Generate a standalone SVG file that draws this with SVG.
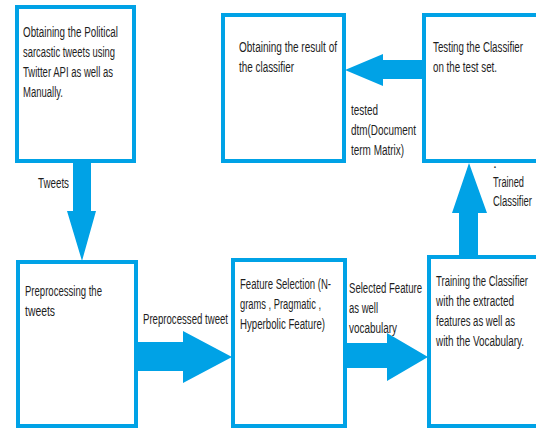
<svg xmlns="http://www.w3.org/2000/svg" width="536" height="429" viewBox="0 0 536 429">
<style>
.box{fill:#fff;stroke:#00a2e6;stroke-width:4}
.arr{fill:#00a2e6}
text{font-family:"Liberation Sans",Arial,sans-serif;font-size:14px;fill:#1e1e1e}
</style>
<rect width="536" height="429" fill="#fff"/>
<g id="connectors">
<polygon class="arr" points="73,163 91,163 91,211 96,211 82,261 67,211 73,211"/>
<polygon class="arr" points="137,342 183,342 183,331 232,357 183,383 183,371 137,371"/>
<polygon class="arr" points="346,343 387,343 387,333 428,357 387,381 387,368 346,368"/>
<polygon class="arr" points="459,256 459,213 452,213 469,163 487,213 478,213 478,256"/>
<polygon class="arr" points="422,60 383,60 383,54 345,70 383,86 383,79 422,79"/>
<text x="38" y="188" textLength="31" lengthAdjust="spacingAndGlyphs">Tweets</text>
<text x="143" y="324" textLength="85" lengthAdjust="spacingAndGlyphs">Preprocessed tweet</text>
<text x="349" y="293" textLength="73" lengthAdjust="spacingAndGlyphs">Selected Feature</text>
<text x="349" y="313" textLength="29" lengthAdjust="spacingAndGlyphs">as well</text>
<text x="349" y="333" textLength="48" lengthAdjust="spacingAndGlyphs">vocabulary</text>
<text x="351" y="115" textLength="27" lengthAdjust="spacingAndGlyphs">tested</text>
<text x="351" y="135" textLength="65" lengthAdjust="spacingAndGlyphs">dtm(Document</text>
<text x="351" y="155" textLength="53" lengthAdjust="spacingAndGlyphs">term Matrix)</text>
<text x="493" y="168">.</text>
<text x="493" y="187" textLength="31" lengthAdjust="spacingAndGlyphs">Trained</text>
<text x="493" y="206" textLength="39" lengthAdjust="spacingAndGlyphs">Classifier</text>
</g>
<g id="n1">
<rect class="box" x="17" y="7" width="117" height="154"/>
<text x="23" y="37" textLength="95" lengthAdjust="spacingAndGlyphs">Obtaining the Political</text>
<text x="23" y="57" textLength="92" lengthAdjust="spacingAndGlyphs">sarcastic tweets using</text>
<text x="23" y="77" textLength="90" lengthAdjust="spacingAndGlyphs">Twitter API as well as</text>
<text x="23" y="97" textLength="40" lengthAdjust="spacingAndGlyphs">Manually.</text>
</g>
<g id="n2">
<rect class="box" x="223" y="15" width="121" height="146"/>
<text x="239" y="52" textLength="98" lengthAdjust="spacingAndGlyphs">Obtaining the result of</text>
<text x="239" y="72" textLength="55" lengthAdjust="spacingAndGlyphs">the classifier</text>
</g>
<g id="n3">
<rect class="box" x="424" y="15" width="130" height="146"/>
<text x="433" y="52" textLength="90" lengthAdjust="spacingAndGlyphs">Testing the Classifier</text>
<text x="433" y="72" textLength="64" lengthAdjust="spacingAndGlyphs">on the test set.</text>
</g>
<g id="n4">
<rect class="box" x="18" y="262" width="118" height="164"/>
<text x="25" y="296" textLength="77" lengthAdjust="spacingAndGlyphs">Preprocessing the</text>
<text x="25" y="316" textLength="30" lengthAdjust="spacingAndGlyphs">tweets</text>
</g>
<g id="n5">
<rect class="box" x="233" y="260" width="112" height="166"/>
<text x="240" y="289" textLength="91" lengthAdjust="spacingAndGlyphs">Feature Selection (N-</text>
<text x="240" y="309" textLength="81" lengthAdjust="spacingAndGlyphs">grams , Pragmatic ,</text>
<text x="240" y="329" textLength="85" lengthAdjust="spacingAndGlyphs">Hyperbolic Feature)</text>
</g>
<g id="n6">
<rect class="box" x="429" y="257" width="130" height="169"/>
<text x="436" y="286" textLength="92" lengthAdjust="spacingAndGlyphs">Training the Classifier</text>
<text x="436" y="306" textLength="78" lengthAdjust="spacingAndGlyphs">with the extracted</text>
<text x="436" y="326" textLength="79" lengthAdjust="spacingAndGlyphs">features as well as</text>
<text x="436" y="346" textLength="88" lengthAdjust="spacingAndGlyphs">with the Vocabulary.</text>
</g>
</svg>
